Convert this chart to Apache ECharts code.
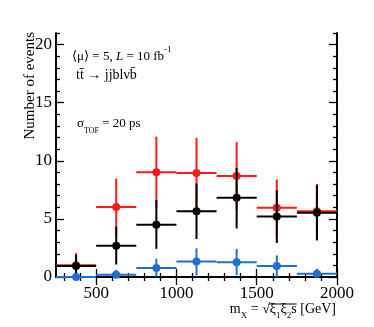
<!DOCTYPE html>
<html>
<head>
<meta charset="utf-8">
<script src="https://cdn.jsdelivr.net/npm/echarts@6/dist/echarts.min.js"></script>
<style>html,body{margin:0;padding:0;background:#fff;}#c{width:374px;height:327px;}</style>
</head>
<body>
<div id="c"></div>
<script>
// bins
const binLo = [250, 500, 750, 1000, 1250, 1500, 1750];
const binHi = [500, 750, 1000, 1250, 1500, 1750, 2000];
const binCenter = [375, 625, 875, 1125, 1375, 1625, 1875];
// red series
const redVals = [1.02, 6.03, 9.01, 8.95, 8.70, 5.97, 5.66];
const redUp   = [2.08, 8.47, 12.08, 11.97, 11.60, 8.39, 8.00];
const redDown = [0.00, 3.60, 6.00, 5.95, 5.75, 3.50, 3.30];
// black series
const blackVals = [0.94, 2.70, 4.49, 5.66, 6.82, 5.20, 5.52];
const blackUp   = [1.90, 4.35, 6.62, 8.04, 9.38, 7.48, 7.90];
const blackDown = [0.00, 1.08, 2.42, 3.27, 4.18, 2.93, 3.15];
// blue series
const blueVals = [0.00, 0.20, 0.77, 1.34, 1.28, 0.94, 0.29];
const blueUp   = [0.00, 0.62, 1.57, 2.47, 2.42, 1.85, 0.72];
const blueDown = [0.00, 0.00, 0.00, 0.15, 0.15, 0.00, 0.00];
// ticks
const xMajorTicks = [500, 1000, 1500, 2000];
const xMinorTicks = [300, 400, 600, 700, 800, 900, 1100, 1200, 1300, 1400, 1600, 1700, 1800, 1900];
const yMajorTicks = [0, 5, 10, 15, 20];
const yMinorTicks = [1, 2, 3, 4, 6, 7, 8, 9, 11, 12, 13, 14, 16, 17, 18, 19, 21];

const FONT = '"Liberation Serif", "DejaVu Serif", serif';

function build(vals, up, down) {
  return vals.map((v, i) => [binLo[i], binHi[i], v, binCenter[i], down[i], up[i]]);
}
function makeSeries(name, color, vals, up, down, z) {
  return {
    type: 'custom', name: name, z: z, clip: false,
    xAxisIndex: 0, yAxisIndex: 0,
    data: build(vals, up, down),
    renderItem: function (params, api) {
      const a = api.coord([api.value(0), api.value(2)]);
      const b = api.coord([api.value(1), api.value(2)]);
      const c = api.coord([api.value(3), api.value(4)]);
      const d = api.coord([api.value(3), api.value(5)]);
      const p = api.coord([api.value(3), api.value(2)]);
      const st = { stroke: color, lineWidth: 2 };
      return {
        type: 'group',
        children: [
          { type: 'line', shape: { x1: a[0], y1: a[1], x2: b[0], y2: b[1] }, style: st },
          { type: 'line', shape: { x1: c[0], y1: c[1], x2: d[0], y2: d[1] }, style: st },
          { type: 'circle', shape: { cx: p[0], cy: p[1], r: 4 }, style: { fill: color } }
        ]
      };
    }
  };
}

const axisLineStyle = { show: true, lineStyle: { color: '#000', width: 1.6 } };
function xAx(pos, ticks, len, showLabel) {
  return {
    type: 'value', min: 250, max: 2000, position: pos,
    axisLine: axisLineStyle,
    axisTick: { show: true, inside: true, length: len, customValues: ticks, lineStyle: { color: '#000', width: 1.3 } },
    axisLabel: showLabel ? { show: true, customValues: xMajorTicks, margin: 8, color: '#000', fontFamily: FONT, fontSize: 17, formatter: v => String(v) } : { show: false },
    splitLine: { show: false }
  };
}
function yAx(pos, ticks, len, showLabel) {
  return {
    type: 'value', min: 0, max: 21, position: pos,
    axisLine: axisLineStyle,
    axisTick: { show: true, inside: true, length: len, customValues: ticks, lineStyle: { color: '#000', width: 1.3 } },
    axisLabel: showLabel ? { show: true, customValues: yMajorTicks, margin: 4, color: '#000', fontFamily: FONT, fontSize: 17, formatter: v => String(v) } : { show: false },
    splitLine: { show: false }
  };
}

// measure x-title pieces to place the square-root bar
const mctx = document.createElement('canvas').getContext('2d');
function tw(t, size) { mctx.font = size + 'px ' + FONT; return mctx.measureText(t).width; }
const titleRight = 374 - 38;
const wTotal = tw('m', 14) + tw('X', 9) + tw(' = √ξ', 14) + tw('1', 9) + tw('ξ', 14) + tw('2', 9) + tw('s [GeV]', 14);
const barStart = titleRight - wTotal + tw('m', 14) + tw('X', 9) + tw(' = √', 14);
const barEnd = barStart + tw('ξ', 14) + tw('1', 9) + tw('ξ', 14) + tw('2', 9) + tw('s', 14);

const chart = echarts.init(document.getElementById('c'), null, { renderer: 'canvas' });
chart.setOption({
  animation: false,
  backgroundColor: '#fff',
  grid: { left: 56, top: 33, right: 37, bottom: 50 },
  xAxis: [
    xAx('bottom', xMajorTicks, 8, true),
    xAx('bottom', xMinorTicks, 4, false),
    xAx('top', xMajorTicks, 8, false),
    xAx('top', xMinorTicks, 4, false)
  ],
  yAxis: [
    yAx('left', yMajorTicks, 8, true),
    yAx('left', yMinorTicks, 4, false),
    yAx('right', yMajorTicks, 8, false),
    yAx('right', yMinorTicks, 4, false)
  ],
  series: [
    makeSeries('red', '#ff1a1a', redVals, redUp, redDown, 2),
    makeSeries('black', '#000000', blackVals, blackUp, blackDown, 3),
    makeSeries('blue', '#1f6fd2', blueVals, blueUp, blueDown, 4)
  ],
  graphic: [
    { type: 'text', left: 23, top: 32, rotation: Math.PI / 2, style: {
        text: 'Number of events', fill: '#000', font: '15px ' + FONT } },
    { type: 'text', x: 72, y: 45, style: {
        text: '{n|⟨μ⟩ = 5, }{i|L}{n| = 10 fb}{s|-1}',
        rich: {
          n: { fontFamily: FONT, fontSize: 13, lineHeight: 18, fill: '#000', verticalAlign: 'bottom' },
          i: { fontFamily: FONT, fontSize: 13, fontStyle: 'italic', lineHeight: 18, verticalAlign: 'bottom' },
          s: { fontFamily: FONT, fontSize: 9, lineHeight: 18, verticalAlign: 'top' }
        } } },
    { type: 'text', x: 76, y: 68, style: {
        text: 'tt\u0304 \u2192 jjblνb\u0304', fill: '#000', font: '14px ' + FONT } },
    { type: 'text', x: 77, y: 117, style: {
        text: '{n|σ}{b|TOF}{n| = 20 ps}',
        rich: {
          n: { fontFamily: FONT, fontSize: 13, lineHeight: 18, verticalAlign: 'top' },
          b: { fontFamily: FONT, fontSize: 8, lineHeight: 18, verticalAlign: 'bottom' }
        } } },
    { type: 'text', right: 38, top: 302, style: {
        text: '{n|m}{b|X}{n| = √ξ}{b|1}{n|ξ}{b|2}{n|s [GeV]}',
        rich: {
          n: { fontFamily: FONT, fontSize: 14, lineHeight: 18, verticalAlign: 'top' },
          b: { fontFamily: FONT, fontSize: 9, lineHeight: 18, verticalAlign: 'bottom' }
        } } },
    { type: 'line', shape: { x1: barStart - 1, y1: 304, x2: barEnd, y2: 304 }, style: { stroke: '#000', lineWidth: 1 } }
  ]
});
</script>
</body>
</html>
